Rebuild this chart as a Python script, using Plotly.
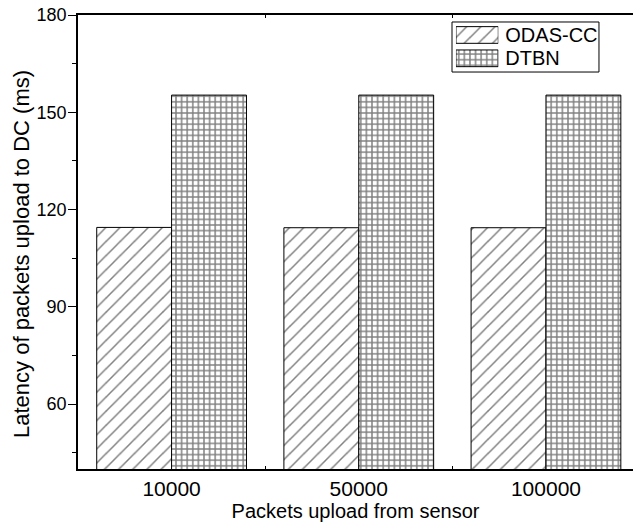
import plotly.graph_objects as go

categories = ["10000", "50000", "100000"]
odas_cc = [114.5, 114.4, 114.4]
dtbn = [155.3, 155.3, 155.3]
series_names = ["ODAS-CC", "DTBN"]
series_patterns = ["/", "+"]
y_ticks = [60, 90, 120, 150, 180]

FONT = "Liberation Sans, Arial, sans-serif"
PAT = {"/": dict(size=10, solidity=0.15), "+": dict(size=5.6, solidity=0.45)}

fig = go.Figure()
for name, vals, shp in zip(series_names, [odas_cc, dtbn], series_patterns):
    fig.add_trace(go.Bar(
        x=categories, y=vals, name=name, showlegend=False,
        marker=dict(color="white", line=dict(color="black", width=1),
                    pattern=dict(shape=shp, fgcolor="black", bgcolor="white", **PAT[shp])),
    ))

# custom legend (larger swatches like the original)
fig.add_trace(go.Bar(
    y=series_names, x=[1] * len(series_names), orientation="h",
    xaxis="x2", yaxis="y2", width=0.715, showlegend=False, hoverinfo="skip",
    marker=dict(color="white", line=dict(color="black", width=1),
                pattern=dict(shape=series_patterns, fgcolor="black", bgcolor="white",
                             size=[PAT[s]["size"] for s in series_patterns],
                             solidity=[PAT[s]["solidity"] for s in series_patterns])),
))

fig.update_layout(
    width=633, height=522,
    margin=dict(l=78, r=0, t=15, b=53),
    paper_bgcolor="white", plot_bgcolor="white",
    barmode="group", bargap=0.2, bargroupgap=0,
    font=dict(family=FONT, color="black", size=18),
    showlegend=False,
    xaxis=dict(
        type="category", range=[-0.5, 2.465],
        showline=True, linecolor="black", linewidth=1.5, mirror="ticks",
        ticks="inside", ticklen=3, tickcolor="black", tickson="boundaries",
        tickfont=dict(size=21, family=FONT),
        title=dict(text="Packets upload from sensor", font=dict(size=20, family=FONT), standoff=0),
        showgrid=False, zeroline=False,
    ),
    yaxis=dict(
        range=[40, 180], tickvals=y_ticks,
        showline=True, linecolor="black", linewidth=1.5, mirror=False,
        ticks="outside", ticklen=8, tickcolor="black", tickwidth=1.2,
        minor=dict(ticks="outside", ticklen=4, dtick=30, tick0=45, tickcolor="black", tickwidth=1.2),
        tickfont=dict(size=18, family=FONT), ticklabelstandoff=-2,
        showgrid=False, zeroline=False,
    ),
    xaxis2=dict(domain=[0.681, 0.7573], anchor="y2", range=[0, 1], visible=False, fixedrange=True),
    yaxis2=dict(domain=[0.8789, 0.9817], anchor="x2", side="right", autorange="reversed",
                type="category", tickmode="array", tickvals=series_names,
                showline=False, showgrid=False, zeroline=False, ticks="",
                ticklabelstandoff=6, tickfont=dict(size=20, family=FONT)),
    shapes=[dict(type="rect", xref="paper", yref="paper",
                 x0=0.6739, x1=0.9387, y0=0.8744, y1=0.9846,
                 line=dict(color="black", width=1), fillcolor="rgba(0,0,0,0)", layer="above")],
    annotations=[dict(text="Latency of packets upload to DC (ms)", textangle=-90,
                      xref="paper", yref="paper", x=-0.1009, y=0.4736,
                      xanchor="center", yanchor="middle", showarrow=False,
                      font=dict(size=22, family=FONT, color="black"))],
)

fig.write_html("out.html")
